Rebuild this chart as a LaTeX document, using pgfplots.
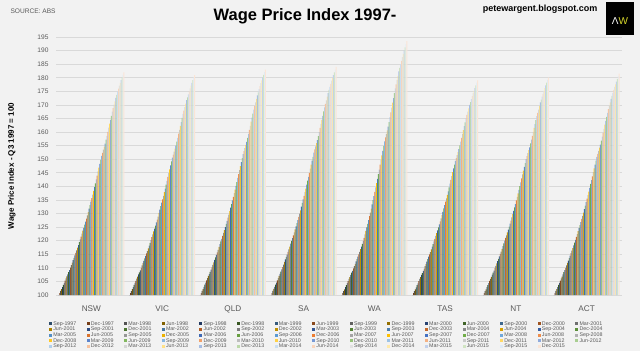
\documentclass[border=0pt]{standalone}
\usepackage{pgfplots}
\pgfplotsset{compat=1.18}
\usepackage{fontspec}
\setmainfont{Liberation Sans}
\definecolor{A1}{HTML}{5B9BD5}
\definecolor{A2}{HTML}{ED7D31}
\definecolor{A3}{HTML}{A5A5A5}
\definecolor{A4}{HTML}{FFC000}
\definecolor{A5}{HTML}{4472C4}
\definecolor{A6}{HTML}{70AD47}
\definecolor{bg}{HTML}{F2F2F2}
\definecolor{gridc}{HTML}{D9D9D9}
\definecolor{tl}{HTML}{595959}
\definecolor{awy}{HTML}{D6D62A}
\tikzset{b/.style={fill=#1,draw=none}}
\begin{document}
\begin{tikzpicture}[x=1pt,y=1pt]
\fill[bg] (0,0) rectangle (640,351);
\node[anchor=west,text=tl,font=\fontsize{6.6}{7}\selectfont] at (7,340) {SOURCE: ABS};
\node[anchor=center,font=\bfseries\fontsize{9}{10}\selectfont] at (540,342) {petewargent.blogspot.com};
\fill[black] (606,316) rectangle (634,349);
\node[anchor=center,font=\fontsize{10}{11}\selectfont,inner sep=0pt] at (620,329.5) {\textcolor{white}{Λ}\textcolor{awy}{W}};
\begin{axis}[at={(56pt,56pt)}, anchor=south west, scale only axis,
 width=566pt, height=258pt,
 ybar=0pt, bar width=0.89pt,
 xmin=-0.5, xmax=7.5, ymin=100, ymax=195,
 xtick={0,...,7}, xticklabels={NSW,VIC,QLD,SA,WA,TAS,NT,ACT},
 ytick={100,105,...,195},
 ymajorgrids, grid style={draw=gridc, line width=0.7pt},
 axis line style={draw=none},
 major tick style={draw=none},
 tick label style={text=tl},
 /pgf/number format/assume math mode=true,
 yticklabel style={font=\fontsize{6.6}{7}\selectfont, xshift=-4pt},
 xticklabel style={font=\fontsize{8.2}{9}\selectfont, yshift=-3pt},
 ylabel={Wage Price Index - Q3 1997 = 100},
 every axis y label/.style={at={(axis description cs:-0.078,0.5)}, rotate=90, anchor=center, font=\bfseries\fontsize{8}{9}\selectfont},
 title={Wage Price Index 1997-},
 every axis title/.style={at={(axis description cs:0.44,1.081)}, anchor=center, font=\bfseries\fontsize{16.5}{18}\selectfont},
 legend columns=15,
 legend cell align=left,
 legend image code/.code={\fill[#1] (0pt,-1.5pt) rectangle (3pt,1.5pt);},
 legend style={at={(axis description cs:-0.0125,-0.1008)}, anchor=north west, draw=none, fill=none,
   font=\fontsize{5.3}{5.7}\selectfont, text=tl, inner sep=0pt, row sep=0.9pt,
   nodes={inner xsep=1.2pt, inner ysep=0pt, text height=3.8pt, text depth=1pt},
   /tikz/every even column/.append style={column sep=9.2pt}},
]
\addplot[b=A1!50!black] coordinates {(0,100.0)(1,100.0)(2,100.0)(3,100.0)(4,100.0)(5,100.0)(6,100.0)(7,100.0)};\addlegendentry{Sep-1997}
\addplot[b=A2!50!black] coordinates {(0,100.7)(1,100.7)(2,100.7)(3,100.7)(4,100.7)(5,100.7)(6,100.7)(7,100.7)};\addlegendentry{Dec-1997}
\addplot[b=A3!50!black] coordinates {(0,101.5)(1,101.4)(2,101.5)(3,101.5)(4,101.4)(5,101.4)(6,101.4)(7,101.5)};\addlegendentry{Mar-1998}
\addplot[b=A4!50!black] coordinates {(0,102.2)(1,102.2)(2,102.2)(3,102.3)(4,102.1)(5,102.1)(6,102.1)(7,102.2)};\addlegendentry{Jun-1998}
\addplot[b=A5!50!black] coordinates {(0,102.9)(1,102.9)(2,103.0)(3,103.0)(4,102.9)(5,102.8)(6,102.9)(7,102.9)};\addlegendentry{Sep-1998}
\addplot[b=A6!50!black] coordinates {(0,103.7)(1,103.7)(2,103.8)(3,103.8)(4,103.6)(5,103.6)(6,103.6)(7,103.7)};\addlegendentry{Dec-1998}
\addplot[b=A1!58!black] coordinates {(0,104.5)(1,104.5)(2,104.6)(3,104.6)(4,104.4)(5,104.3)(6,104.4)(7,104.5)};\addlegendentry{Mar-1999}
\addplot[b=A2!58!black] coordinates {(0,105.3)(1,105.2)(2,105.4)(3,105.4)(4,105.1)(5,105.1)(6,105.2)(7,105.3)};\addlegendentry{Jun-1999}
\addplot[b=A3!58!black] coordinates {(0,106.1)(1,106.0)(2,106.2)(3,106.2)(4,105.9)(5,105.9)(6,105.9)(7,106.1)};\addlegendentry{Sep-1999}
\addplot[b=A4!58!black] coordinates {(0,106.9)(1,106.8)(2,107.0)(3,107.0)(4,106.6)(5,106.6)(6,106.7)(7,106.8)};\addlegendentry{Dec-1999}
\addplot[b=A5!58!black] coordinates {(0,107.6)(1,107.6)(2,107.7)(3,107.8)(4,107.4)(5,107.4)(6,107.5)(7,107.6)};\addlegendentry{Mar-2000}
\addplot[b=A6!58!black] coordinates {(0,108.4)(1,108.3)(2,108.5)(3,108.6)(4,108.2)(5,108.1)(6,108.2)(7,108.4)};\addlegendentry{Jun-2000}
\addplot[b=A1!67!black] coordinates {(0,109.2)(1,109.1)(2,109.3)(3,109.4)(4,108.9)(5,108.9)(6,109.0)(7,109.2)};\addlegendentry{Sep-2000}
\addplot[b=A2!67!black] coordinates {(0,110.1)(1,110.0)(2,110.2)(3,110.3)(4,109.8)(5,109.7)(6,109.9)(7,110.0)};\addlegendentry{Dec-2000}
\addplot[b=A3!67!black] coordinates {(0,111.0)(1,110.9)(2,111.1)(3,111.2)(4,110.6)(5,110.6)(6,110.7)(7,110.9)};\addlegendentry{Mar-2001}
\addplot[b=A4!67!black] coordinates {(0,111.9)(1,111.7)(2,112.0)(3,112.2)(4,111.5)(5,111.4)(6,111.6)(7,111.8)};\addlegendentry{Jun-2001}
\addplot[b=A5!67!black] coordinates {(0,112.8)(1,112.6)(2,112.9)(3,113.1)(4,112.4)(5,112.3)(6,112.5)(7,112.7)};\addlegendentry{Sep-2001}
\addplot[b=A6!67!black] coordinates {(0,113.7)(1,113.5)(2,113.9)(3,114.0)(4,113.2)(5,113.2)(6,113.3)(7,113.6)};\addlegendentry{Dec-2001}
\addplot[b=A1!75!black] coordinates {(0,114.6)(1,114.4)(2,114.8)(3,114.9)(4,114.1)(5,114.1)(6,114.2)(7,114.5)};\addlegendentry{Mar-2002}
\addplot[b=A2!75!black] coordinates {(0,115.5)(1,115.3)(2,115.7)(3,115.9)(4,115.0)(5,115.0)(6,115.1)(7,115.4)};\addlegendentry{Jun-2002}
\addplot[b=A3!75!black] coordinates {(0,116.4)(1,116.2)(2,116.6)(3,116.8)(4,115.9)(5,115.8)(6,116.0)(7,116.3)};\addlegendentry{Sep-2002}
\addplot[b=A4!75!black] coordinates {(0,117.4)(1,117.2)(2,117.7)(3,117.8)(4,116.9)(5,116.8)(6,117.0)(7,117.3)};\addlegendentry{Dec-2002}
\addplot[b=A5!75!black] coordinates {(0,118.4)(1,118.2)(2,118.7)(3,118.9)(4,117.8)(5,117.8)(6,118.0)(7,118.3)};\addlegendentry{Mar-2003}
\addplot[b=A6!75!black] coordinates {(0,119.5)(1,119.2)(2,119.7)(3,119.9)(4,118.8)(5,118.7)(6,119.0)(7,119.3)};\addlegendentry{Jun-2003}
\addplot[b=A1!83!black] coordinates {(0,120.5)(1,120.2)(2,120.7)(3,120.9)(4,119.8)(5,119.7)(6,120.0)(7,120.3)};\addlegendentry{Sep-2003}
\addplot[b=A2!83!black] coordinates {(0,121.5)(1,121.3)(2,121.8)(3,122.0)(4,121.0)(5,120.7)(6,121.0)(7,121.4)};\addlegendentry{Dec-2003}
\addplot[b=A3!83!black] coordinates {(0,122.6)(1,122.3)(2,122.9)(3,123.1)(4,122.3)(5,121.8)(6,122.0)(7,122.4)};\addlegendentry{Mar-2004}
\addplot[b=A4!83!black] coordinates {(0,123.7)(1,123.4)(2,123.9)(3,124.2)(4,123.6)(5,122.8)(6,123.1)(7,123.5)};\addlegendentry{Jun-2004}
\addplot[b=A5!83!black] coordinates {(0,124.7)(1,124.4)(2,125.0)(3,125.3)(4,124.9)(5,123.8)(6,124.1)(7,124.6)};\addlegendentry{Sep-2004}
\addplot[b=A6!83!black] coordinates {(0,125.9)(1,125.5)(2,126.2)(3,126.5)(4,126.2)(5,124.9)(6,125.2)(7,125.7)};\addlegendentry{Dec-2004}
\addplot[b=A1!92!black] coordinates {(0,127.0)(1,126.7)(2,127.3)(3,127.6)(4,127.6)(5,126.0)(6,126.3)(7,126.8)};\addlegendentry{Mar-2005}
\addplot[b=A2!92!black] coordinates {(0,128.1)(1,127.8)(2,128.5)(3,128.8)(4,129.0)(5,127.1)(6,127.4)(7,128.0)};\addlegendentry{Jun-2005}
\addplot[b=A3!92!black] coordinates {(0,129.3)(1,128.9)(2,129.6)(3,130.0)(4,130.3)(5,128.2)(6,128.6)(7,129.1)};\addlegendentry{Sep-2005}
\addplot[b=A4!92!black] coordinates {(0,130.5)(1,130.2)(2,130.9)(3,131.2)(4,131.8)(5,129.4)(6,129.8)(7,130.3)};\addlegendentry{Dec-2005}
\addplot[b=A5!92!black] coordinates {(0,131.8)(1,131.4)(2,132.2)(3,132.5)(4,133.4)(5,130.6)(6,131.0)(7,131.6)};\addlegendentry{Mar-2006}
\addplot[b=A6!92!black] coordinates {(0,133.1)(1,132.7)(2,133.5)(3,133.9)(4,134.9)(5,131.9)(6,132.3)(7,132.9)};\addlegendentry{Jun-2006}
\addplot[b=A1] coordinates {(0,134.4)(1,134.0)(2,134.8)(3,135.2)(4,136.4)(5,133.1)(6,133.5)(7,134.2)};\addlegendentry{Sep-2006}
\addplot[b=A2] coordinates {(0,135.7)(1,135.2)(2,136.1)(3,136.5)(4,138.0)(5,134.4)(6,134.8)(7,135.5)};\addlegendentry{Dec-2006}
\addplot[b=A3] coordinates {(0,137.0)(1,136.5)(2,137.5)(3,137.9)(4,139.6)(5,135.6)(6,136.1)(7,136.8)};\addlegendentry{Mar-2007}
\addplot[b=A4] coordinates {(0,138.3)(1,137.9)(2,138.8)(3,139.2)(4,141.2)(5,136.9)(6,137.4)(7,138.1)};\addlegendentry{Jun-2007}
\addplot[b=A5] coordinates {(0,139.7)(1,139.2)(2,140.2)(3,140.6)(4,142.8)(5,138.2)(6,138.7)(7,139.4)};\addlegendentry{Sep-2007}
\addplot[b=A6] coordinates {(0,141.1)(1,140.6)(2,141.6)(3,142.1)(4,144.5)(5,139.6)(6,140.1)(7,140.9)};\addlegendentry{Dec-2007}
\addplot[b=A1!87!white] coordinates {(0,142.6)(1,142.0)(2,143.1)(3,143.5)(4,146.2)(5,141.0)(6,141.5)(7,142.3)};\addlegendentry{Mar-2008}
\addplot[b=A2!87!white] coordinates {(0,144.0)(1,143.5)(2,144.5)(3,145.0)(4,148.0)(5,142.4)(6,142.9)(7,143.7)};\addlegendentry{Jun-2008}
\addplot[b=A3!87!white] coordinates {(0,145.5)(1,144.9)(2,146.0)(3,146.5)(4,149.7)(5,143.8)(6,144.4)(7,145.2)};\addlegendentry{Sep-2008}
\addplot[b=A4!87!white] coordinates {(0,146.9)(1,146.3)(2,147.5)(3,148.0)(4,151.4)(5,145.2)(6,145.8)(7,146.6)};\addlegendentry{Dec-2008}
\addplot[b=A5!87!white] coordinates {(0,148.3)(1,147.7)(2,148.9)(3,149.5)(4,153.1)(5,146.6)(6,147.2)(7,148.0)};\addlegendentry{Mar-2009}
\addplot[b=A6!87!white] coordinates {(0,149.8)(1,149.2)(2,150.4)(3,150.9)(4,154.9)(5,148.0)(6,148.6)(7,149.5)};\addlegendentry{Jun-2009}
\addplot[b=A1!73!white] coordinates {(0,151.2)(1,150.6)(2,151.9)(3,152.4)(4,156.6)(5,149.4)(6,150.0)(7,150.9)};\addlegendentry{Sep-2009}
\addplot[b=A2!73!white] coordinates {(0,152.3)(1,151.7)(2,153.0)(3,153.6)(4,158.0)(5,150.4)(6,151.1)(7,152.0)};\addlegendentry{Dec-2009}
\addplot[b=A3!73!white] coordinates {(0,153.5)(1,152.8)(2,154.1)(3,154.7)(4,159.3)(5,151.5)(6,152.2)(7,153.1)};\addlegendentry{Mar-2010}
\addplot[b=A4!73!white] coordinates {(0,154.6)(1,153.9)(2,155.3)(3,155.9)(4,160.6)(5,152.6)(6,153.3)(7,154.3)};\addlegendentry{Jun-2010}
\addplot[b=A5!73!white] coordinates {(0,155.7)(1,155.0)(2,156.4)(3,157.0)(4,162.0)(5,153.7)(6,154.4)(7,155.4)};\addlegendentry{Sep-2010}
\addplot[b=A6!73!white] coordinates {(0,157.2)(1,156.5)(2,157.9)(3,158.5)(4,163.7)(5,155.1)(6,155.8)(7,156.8)};\addlegendentry{Dec-2010}
\addplot[b=A1!60!white] coordinates {(0,158.6)(1,157.9)(2,159.3)(3,160.0)(4,165.5)(5,156.5)(6,157.2)(7,158.3)};\addlegendentry{Mar-2011}
\addplot[b=A2!60!white] coordinates {(0,160.1)(1,159.4)(2,160.8)(3,161.5)(4,167.2)(5,157.9)(6,158.6)(7,159.7)};\addlegendentry{Jun-2011}
\addplot[b=A3!60!white] coordinates {(0,161.6)(1,160.8)(2,162.3)(3,163.0)(4,169.0)(5,159.3)(6,160.1)(7,161.2)};\addlegendentry{Sep-2011}
\addplot[b=A4!60!white] coordinates {(0,163.1)(1,162.3)(2,163.8)(3,164.5)(4,170.8)(5,160.7)(6,161.5)(7,162.7)};\addlegendentry{Dec-2011}
\addplot[b=A5!60!white] coordinates {(0,164.5)(1,163.7)(2,165.3)(3,166.0)(4,172.5)(5,162.2)(6,162.9)(7,164.1)};\addlegendentry{Mar-2012}
\addplot[b=A6!60!white] coordinates {(0,166.0)(1,165.2)(2,166.8)(3,167.6)(4,174.3)(5,163.6)(6,164.4)(7,165.6)};\addlegendentry{Jun-2012}
\addplot[b=A1!47!white] coordinates {(0,167.5)(1,166.7)(2,168.3)(3,169.1)(4,176.1)(5,165.0)(6,165.9)(7,167.1)};\addlegendentry{Sep-2012}
\addplot[b=A2!47!white] coordinates {(0,168.8)(1,167.9)(2,169.6)(3,170.4)(4,177.6)(5,166.3)(6,167.1)(7,168.4)};\addlegendentry{Dec-2012}
\addplot[b=A3!47!white] coordinates {(0,170.1)(1,169.2)(2,170.9)(3,171.7)(4,179.2)(5,167.5)(6,168.3)(7,169.6)};\addlegendentry{Mar-2013}
\addplot[b=A4!47!white] coordinates {(0,171.3)(1,170.5)(2,172.2)(3,173.0)(4,180.7)(5,168.7)(6,169.6)(7,170.9)};\addlegendentry{Jun-2013}
\addplot[b=A5!47!white] coordinates {(0,172.6)(1,171.8)(2,173.5)(3,174.3)(4,182.3)(5,170.0)(6,170.9)(7,172.2)};\addlegendentry{Sep-2013}
\addplot[b=A6!47!white] coordinates {(0,173.7)(1,172.8)(2,174.6)(3,175.5)(4,183.6)(5,171.0)(6,171.9)(7,173.3)};\addlegendentry{Dec-2013}
\addplot[b=A1!33!white] coordinates {(0,174.9)(1,173.9)(2,175.8)(3,176.6)(4,184.9)(5,172.1)(6,173.0)(7,174.4)};\addlegendentry{Mar-2014}
\addplot[b=A2!33!white] coordinates {(0,176.0)(1,175.0)(2,176.9)(3,177.7)(4,186.2)(5,173.2)(6,174.1)(7,175.5)};\addlegendentry{Jun-2014}
\addplot[b=A3!33!white] coordinates {(0,177.1)(1,176.1)(2,178.0)(3,178.9)(4,187.6)(5,174.3)(6,175.2)(7,176.6)};\addlegendentry{Sep-2014}
\addplot[b=A4!33!white] coordinates {(0,178.1)(1,177.1)(2,179.0)(3,179.9)(4,188.8)(5,175.2)(6,176.2)(7,177.6)};\addlegendentry{Dec-2014}
\addplot[b=A5!33!white] coordinates {(0,179.1)(1,178.1)(2,180.1)(3,181.0)(4,190.0)(5,176.2)(6,177.2)(7,178.6)};\addlegendentry{Mar-2015}
\addplot[b=A6!33!white] coordinates {(0,180.1)(1,179.1)(2,181.1)(3,182.0)(4,191.2)(5,177.2)(6,178.2)(7,179.6)};\addlegendentry{Jun-2015}
\addplot[b=A1!20!white] coordinates {(0,181.1)(1,180.1)(2,182.1)(3,183.0)(4,192.4)(5,178.2)(6,179.2)(7,180.6)};\addlegendentry{Sep-2015}
\addplot[b=A2!20!white] coordinates {(0,182.0)(1,181.0)(2,183.0)(3,184.0)(4,193.5)(5,179.0)(6,180.0)(7,181.5)};\addlegendentry{Dec-2015}
\end{axis}
\end{tikzpicture}
\end{document}
